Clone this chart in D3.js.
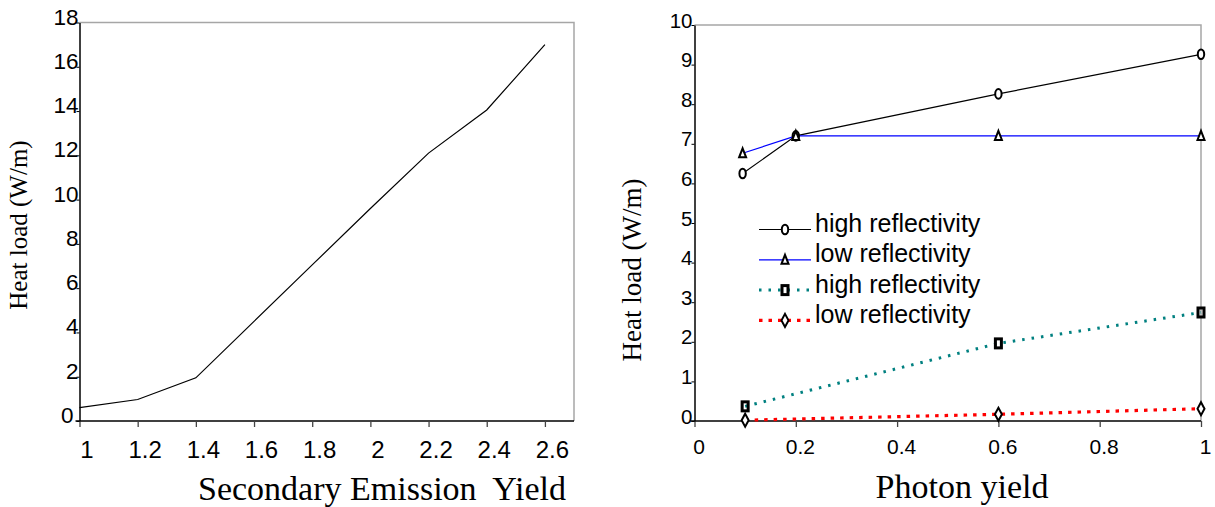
<!DOCTYPE html>
<html>
<head>
<meta charset="utf-8">
<script src="https://cdn.jsdelivr.net/npm/d3@7"></script>
<style>
  body { margin: 0; background: #fff; }
  svg { display: block; }
  .tick text { font-family: "Liberation Sans", Arial, sans-serif; fill: #000; }
  .title { font-family: "Liberation Serif", "Times New Roman", serif; fill: #000; white-space: pre; }
  .legend text { font-family: "Liberation Sans", Arial, sans-serif; font-size: 25px; fill: #000; }
</style>
</head>
<body>
<script>
// Left chart: heat load vs secondary emission yield
const seyValues = [1, 1.2, 1.4, 1.6, 1.8, 2.0, 2.2, 2.4, 2.6];
const seyHeatLoad = [0.6, 0.97, 1.95, 4.5, 7.05, 9.6, 12.1, 14.05, 17];
const seyTicks = [1, 1.2, 1.4, 1.6, 1.8, 2, 2.2, 2.4, 2.6];
const seyHeatTicks = [0, 2, 4, 6, 8, 10, 12, 14, 16, 18];

// Right chart: heat load vs photon yield
const photonYieldUpper = [0.095, 0.2, 0.6, 1.0];
const highReflUpper = [6.25, 7.2, 8.26, 9.26];
const lowReflUpper = [6.76, 7.2, 7.2, 7.2];
const photonYieldLower = [0.1, 0.6, 1.0];
const highReflLower = [0.37, 1.96, 2.74];
const lowReflLower = [0.02, 0.17, 0.31];
const photonTicks = [0, 0.2, 0.4, 0.6, 0.8, 1];
const photonHeatTicks = [0, 1, 2, 3, 4, 5, 6, 7, 8, 9, 10];
const legendLabels = ['high reflectivity', 'low reflectivity', 'high reflectivity', 'low reflectivity'];

const svg = d3.select('body').append('svg')
    .attr('width', 1215)
    .attr('height', 507);

// draws one marker shape centred on (cx, cy)
function marker(g, type, cx, cy) {
    if (type === 'circle') {
        g.append('ellipse')
            .attr('cx', cx).attr('cy', cy)
            .attr('rx', 3.2).attr('ry', 4.8)
            .attr('fill', '#fff').attr('stroke', '#000').attr('stroke-width', 2);
    } else if (type === 'triangle') {
        g.append('path')
            .attr('d', `M${cx},${cy - 5} L${cx + 3.5},${cy + 4} L${cx - 3.5},${cy + 4} Z`)
            .attr('fill', '#fff').attr('stroke', '#000').attr('stroke-width', 2);
    } else if (type === 'square') {
        g.append('rect')
            .attr('x', cx - 3).attr('y', cy - 4.5)
            .attr('width', 6).attr('height', 9)
            .attr('fill', 'none').attr('stroke', '#000').attr('stroke-width', 3);
    } else if (type === 'diamond') {
        g.append('path')
            .attr('d', `M${cx},${cy - 6.5} L${cx + 3.5},${cy} L${cx},${cy + 6.5} L${cx - 3.5},${cy} Z`)
            .attr('fill', '#fff').attr('stroke', '#000').attr('stroke-width', 2);
    }
}

// axes + frame shared by both charts
function drawFrame(x, y, xTicks, yTicks, opts) {
    const [x0, x1] = x.range();
    const [y0, y1] = y.range();

    // grey top and right border
    svg.append('path')
        .attr('d', `M${x0},${y1} L${x1},${y1} L${x1},${y0}`)
        .attr('fill', 'none').attr('stroke', '#a6a6a6').attr('stroke-width', 1.5);

    const xAxis = svg.append('g')
        .attr('transform', `translate(0,${y0})`)
        .call(d3.axisBottom(x).tickValues(xTicks).tickSize(6).tickSizeOuter(0).tickFormat(d3.format('')));
    xAxis.select('.domain').attr('stroke', '#000').attr('stroke-width', 1.5)
        .attr('d', `M${x0 - 4},0 H${x1}`);
    xAxis.selectAll('.tick line').attr('stroke', '#444').attr('stroke-width', 1.3);
    xAxis.selectAll('.tick text')
        .attr('font-size', opts.xFont)
        .attr('y', opts.xLabelY).attr('dy', 0).attr('dx', opts.xLabelDx);

    const yAxis = svg.append('g')
        .attr('transform', `translate(${x0},0)`)
        .call(d3.axisLeft(y).tickValues(yTicks).tickSize(3).tickSizeOuter(0).tickFormat(d3.format('')));
    yAxis.select('.domain').attr('stroke', '#000').attr('stroke-width', 1.5);
    yAxis.selectAll('.tick line').attr('stroke', '#000');
    yAxis.selectAll('.tick text')
        .attr('font-size', opts.yFont)
        .attr('x', d => d === 0 ? opts.yLabelX - opts.zeroShift : opts.yLabelX)
        .attr('dy', opts.yLabelDy);
}

// ---------- Left chart ----------
const xSey = d3.scaleLinear().domain([1, 2.7]).range([79.5, 574]);
const ySey = d3.scaleLinear().domain([0, 18]).range([421, 22.5]);

drawFrame(xSey, ySey, seyTicks, seyHeatTicks,
    { xFont: 24, xLabelY: 37, xLabelDx: 7, yFont: 22.5, yLabelX: -1, yLabelDy: 1.5, zeroShift: 5 });

svg.append('path')
    .datum(seyValues.map((v, i) => [v, seyHeatLoad[i]]))
    .attr('fill', 'none').attr('stroke', '#000').attr('stroke-width', 1.2)
    .attr('d', d3.line().x(d => xSey(d[0])).y(d => ySey(d[1])));

svg.append('text').attr('class', 'title')
    .attr('x', 198).attr('y', 500)
    .attr('font-size', 34)
    .text('Secondary Emission  Yield');

svg.append('text').attr('class', 'title')
    .attr('transform', 'translate(27,225) rotate(-90)')
    .attr('text-anchor', 'middle')
    .attr('font-size', 25)
    .text('Heat load (W/m)');

// ---------- Right chart ----------
const xPh = d3.scaleLinear().domain([0, 1]).range([694.5, 1201]);
const yPh = d3.scaleLinear().domain([0, 10]).range([421, 25]);

drawFrame(xPh, yPh, photonTicks, photonHeatTicks,
    { xFont: 21, xLabelY: 33, xLabelDx: 4, yFont: 20.5, yLabelX: -2, yLabelDy: 2, zeroShift: 0 });

const series = [
    { xs: photonYieldUpper, ys: highReflUpper, color: '#000', width: 1.2, dash: null, shape: 'circle' },
    { xs: photonYieldUpper, ys: lowReflUpper, color: '#0000ff', width: 1.2, dash: null, shape: 'triangle' },
    { xs: photonYieldLower, ys: highReflLower, color: '#008080', width: 3, dash: '2.5,7', shape: 'square' },
    { xs: photonYieldLower, ys: lowReflLower, color: '#ff0000', width: 3.2, dash: '3.5,6', shape: 'diamond' }
];

const line = d3.line().x(d => xPh(d[0])).y(d => yPh(d[1]));
series.forEach(s => {
    svg.append('path')
        .datum(s.xs.map((v, i) => [v, s.ys[i]]))
        .attr('fill', 'none').attr('stroke', s.color).attr('stroke-width', s.width)
        .attr('stroke-dasharray', s.dash)
        .attr('d', line);
});
series.forEach(s => {
    const g = svg.append('g');
    s.xs.forEach((v, i) => marker(g, s.shape, xPh(v), yPh(s.ys[i])));
});

// legend
const legend = svg.append('g').attr('class', 'legend');
series.forEach((s, i) => {
    const ly = 229.5 + i * 30.3;
    legend.append('line')
        .attr('x1', 759).attr('x2', 811).attr('y1', ly).attr('y2', ly)
        .attr('stroke', s.color).attr('stroke-width', s.width)
        .attr('stroke-dasharray', s.dash);
    marker(legend, s.shape, 785, ly);
    legend.append('text')
        .attr('x', 815).attr('y', ly + 2.5)
        .text(legendLabels[i]);
});

svg.append('text').attr('class', 'title')
    .attr('x', 962).attr('y', 498)
    .attr('text-anchor', 'middle')
    .attr('font-size', 34)
    .text('Photon yield');

svg.append('text').attr('class', 'title')
    .attr('transform', 'translate(641,270) rotate(-90)')
    .attr('text-anchor', 'middle')
    .attr('font-size', 27)
    .text('Heat load (W/m)');
</script>
</body>
</html>
